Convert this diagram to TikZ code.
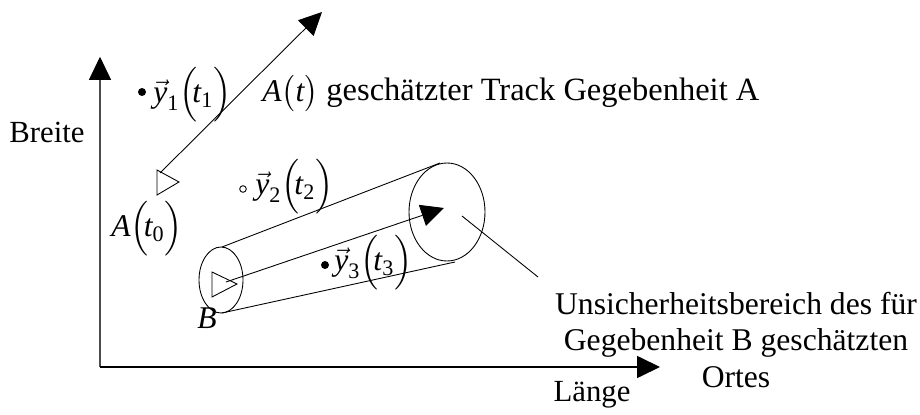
\documentclass[tikz,border=0pt]{standalone}
\usepackage{amsmath}
\usepackage{fontspec}
\setmainfont{Liberation Serif}
\usepackage{tikz}
\usetikzlibrary{arrows.meta, calc}

% italic letters in the text font
\newcommand{\vy}[1]{\vec{\textit{y}}_{\text{#1}}}

\tikzset{
  bigtip/.style={-{Triangle[length=13pt,width=12.5pt]}},
  lbl/.style={inner sep=0pt, font=\fontsize{17.5}{21}\selectfont},
  mlbl/.style={inner sep=0pt, font=\fontsize{18}{22}\selectfont},
  marker/.style={line width=0.5pt},
}

\begin{document}
\begin{tikzpicture}[x=0.02cm, y=-0.02cm, line width=0.5pt]
  \useasboundingbox (0,0) rectangle (920,415);
  % axes
  \coordinate (O) at (100,367);
  \coordinate (ytip) at (100,57);
  \coordinate (xtip) at (660,367);
  \draw[bigtip, line width=0.7pt, black!70] (O) -- (ytip);
  \fill (ytip) -- ++(-11,23) -- ++(22,0) -- cycle;
  \draw[bigtip, line width=0.7pt] (O) -- (xtip);
  \node[lbl] (breite) at (47,132) {Breite};
  \node[lbl] (laenge) at (592,395) {Länge};
  % track A
  \draw[marker] (157,170) -- (179,182) -- (157,195) -- cycle;
  \coordinate (a0) at (160,173);
  \coordinate (atip) at (322,12);
  \draw[bigtip] (a0) -- (atip);
  \node[mlbl] (at0) at (147,229) {$\textit{A}\Bigl(\!\textit{t}_{\text{0}}\Bigr)$};
  \node[mlbl, anchor=west] (at) at (262,94) {$\textit{A}\bigl(\textit{t}\bigr)$};
  \node[lbl, font=\fontsize{18.5}{22}\selectfont, anchor=base west] (atrack) at (326,101) {geschätzter Track Gegebenheit A};
  \fill (142,92) circle (4);
  \node[mlbl, anchor=west] (y1) at (153,95) {$\vy{1}\Bigl(\!\textit{t}_{\text{1}}\Bigr)$};
  \draw (243,189) circle (3.3);
  \node[mlbl, anchor=west] (y2) at (255,187) {$\vy{2}\Bigl(\!\textit{t}_{\text{2}}\Bigr)$};
  % uncertainty cone of B
  \draw (221,280) ellipse (22 and 33);
  \draw (447,212) ellipse (38 and 49);
  \draw (222,247) -- (440,163);
  \draw (222,313) -- (455,262);
  \draw[marker] (212,272) -- (237,284) -- (212,297) -- cycle;
  \coordinate (b0) at (226,282);
  \coordinate (btip) at (444,208);
  \draw[bigtip] (b0) -- (btip);
  \node[mlbl] (b) at (207,318) {\textit{B}};
  \fill (325,265) circle (4);
  \node[mlbl, anchor=west] (y3) at (334,263) {$\vy{3}\Bigl(\!\textit{t}_{\text{3}}\Bigr)$};
  % label for region
  \node[lbl, font=\fontsize{18}{21}\selectfont, align=center] (region) at (736,340) {Unsicherheitsbereich des für\\Gegebenheit B geschätzten\\Ortes};
  \draw (462,216) -- (538,277);
\end{tikzpicture}
\end{document}
